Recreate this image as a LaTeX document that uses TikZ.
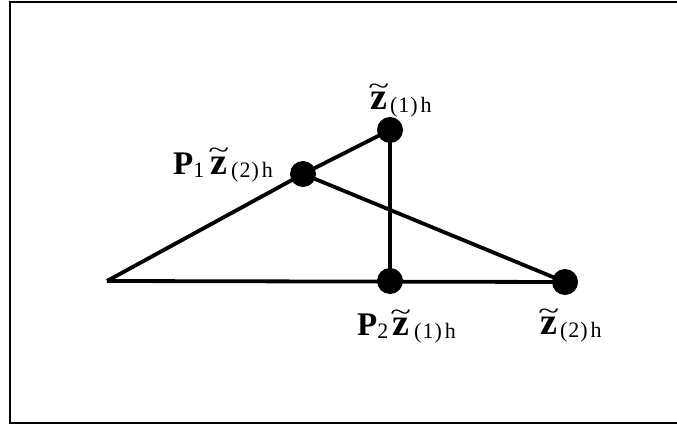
\documentclass[tikz,border=0pt]{standalone}
\usepackage{fontspec}
\usepackage{graphicx}
\setmainfont{Liberation Serif}
\begin{document}
\begin{tikzpicture}[x=1pt,y=-1pt,
  edge/.style={line width=3.8pt},
  dot/.style={circle,fill=black,inner sep=0pt,minimum size=26pt},
  lbl/.style={inner sep=0pt,font=\fontsize{33}{34}\selectfont\bfseries}]
\useasboundingbox (0,0) rectangle (677,425);
\draw[line width=2pt] (690,2) -- (10,2) -- (10,423) -- (690,423);
\coordinate (A) at (107,281);
\node[dot] (B) at (390,281) {};
\node[dot] (C) at (565,282) {};
\node[dot] (D) at (390,130) {};
\node[dot] (E) at (303,174) {};
\draw[edge] (A) -- (C.center);
\draw[edge] (A) -- (E.center) -- (D.center) -- (B.center);
\draw[edge] (E.center) -- (C.center);
\newcommand{\zt}{\leavevmode\setbox0\hbox{\fontsize{38}{38}\selectfont z}%
  \rlap{\makebox[\wd0]{\raisebox{15pt}{\scalebox{1.2}[0.8]{\fontsize{32}{32}\selectfont\mdseries\textasciitilde}}}}\box0}
\newcommand{\subs}[1]{\raisebox{-3pt}{\fontsize{22}{22}\selectfont\mdseries #1}}
\newcommand{\sh}[1]{\subs{(\kern1pt#1\kern1pt)\kern3pt h}}
\node[lbl,anchor=base west] (L1) at (370,110) {\zt\kern3pt\sh{1}};
\node[lbl,anchor=base west] (L2) at (173,174) {P\subs{1}\kern6pt\zt\kern4pt\sh{2}};
\node[lbl,anchor=base west] (L3) at (357,335) {P\subs{2}\kern4pt\zt\kern5pt\sh{1}};
\node[lbl,anchor=base west] (L4) at (540,334) {\zt\kern3pt\sh{2}};
\end{tikzpicture}
\end{document}
